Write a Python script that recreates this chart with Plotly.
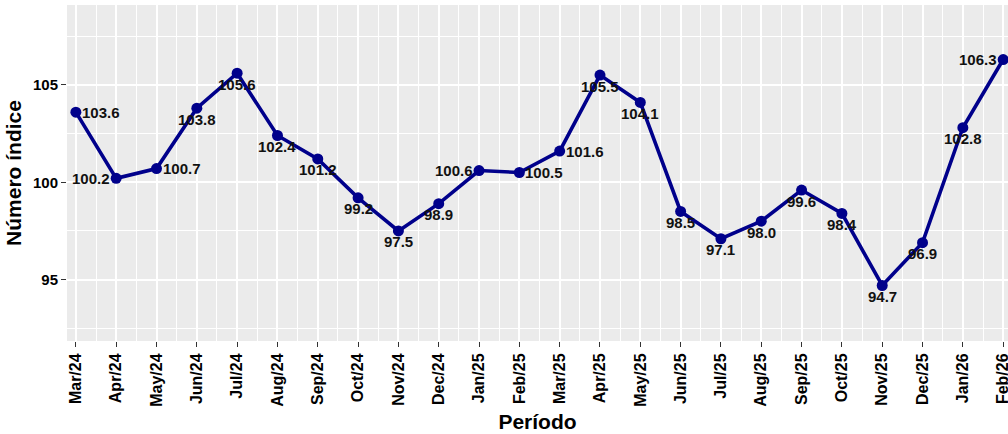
import plotly.graph_objects as go

periods = ["Mar/24", "Apr/24", "May/24", "Jun/24", "Jul/24", "Aug/24", "Sep/24",
           "Oct/24", "Nov/24", "Dec/24", "Jan/25", "Feb/25", "Mar/25", "Apr/25",
           "May/25", "Jun/25", "Jul/25", "Aug/25", "Sep/25", "Oct/25", "Nov/25",
           "Dec/25", "Jan/26", "Feb/26"]
values = [103.6, 100.2, 100.7, 103.8, 105.6, 102.4, 101.2, 99.2, 97.5, 98.9,
          100.6, 100.5, 101.6, 105.5, 104.1, 98.5, 97.1, 98.0, 99.6, 98.4,
          94.7, 96.9, 102.8, 106.3]
# label placement per point: R = right, L = left, B = below
label_pos = ["R", "L", "R", "B", "B", "B", "B", "B", "B", "B", "L", "R", "R",
             "B", "B", "B", "B", "B", "B", "B", "B", "B", "B", "L"]
y_ticks = [95, 100, 105]
y_minor = [92.5, 97.5, 102.5, 107.5]

xs = list(range(len(periods)))
FONT = "Liberation Sans, Arial, sans-serif"

fig = go.Figure()
fig.add_trace(go.Scatter(
    x=xs, y=values, mode="lines+markers",
    line=dict(color="#00008B", width=3.6),
    marker=dict(color="#00008B", size=11),
    cliponaxis=False, hoverinfo="skip", showlegend=False,
))

annotations = []
for x, v, p in zip(xs, values, label_pos):
    a = dict(x=x, y=v, text=f"<b>{v:.1f}</b>", showarrow=False,
             font=dict(family=FONT, size=15, color="#111111"))
    if p == "R":
        a.update(xanchor="left", yanchor="middle", xshift=4)
    elif p == "L":
        a.update(xanchor="right", yanchor="middle", xshift=-4)
    else:
        a.update(xanchor="center", yanchor="middle", yshift=-11)
    annotations.append(a)

fig.update_layout(
    width=1008, height=434,
    margin=dict(l=67, r=0, t=5, b=93),
    paper_bgcolor="white", plot_bgcolor="#EBEBEB",
    font=dict(family=FONT, color="black"),
    annotations=annotations,
)
fig.update_xaxes(
    range=[-0.22, 23.12], tickmode="array", tickvals=xs,
    ticktext=[f"<b>{p}</b>" for p in periods], tickangle=-90,
    tickfont=dict(family=FONT, size=16, color="black"),
    ticklabeloverflow="allow",
    ticks="outside", ticklen=5, tickcolor="#333333", tickwidth=1,
    showgrid=True, gridcolor="white", gridwidth=1.6, zeroline=False,
    showline=False,
    minor=dict(showgrid=True, gridcolor="white", gridwidth=0.8,
               tickmode="array", tickvals=[i + 0.5 for i in xs[:-1]], ticks=""),
    title=dict(text="<b>Período</b>", font=dict(family=FONT, size=21, color="black"),
               standoff=8),
    automargin=False,
)
fig.update_yaxes(
    range=[91.85, 109.1], tickmode="array", tickvals=y_ticks,
    ticktext=[f"<b>{t}</b>" for t in y_ticks],
    tickfont=dict(family=FONT, size=15, color="black"),
    ticks="outside", ticklen=5, tickcolor="#333333", tickwidth=1,
    showgrid=True, gridcolor="white", gridwidth=1.6, zeroline=False,
    showline=False,
    minor=dict(showgrid=True, gridcolor="white", gridwidth=0.8,
               tickmode="array", tickvals=y_minor, ticks=""),
    title=dict(text="<b>Número índice</b>", font=dict(family=FONT, size=21, color="black"),
               standoff=5),
    automargin=False,
)

fig.write_html("out.html", config={"displayModeBar": False},
               post_script="document.body.style.margin='0';document.body.style.overflow='hidden';")
